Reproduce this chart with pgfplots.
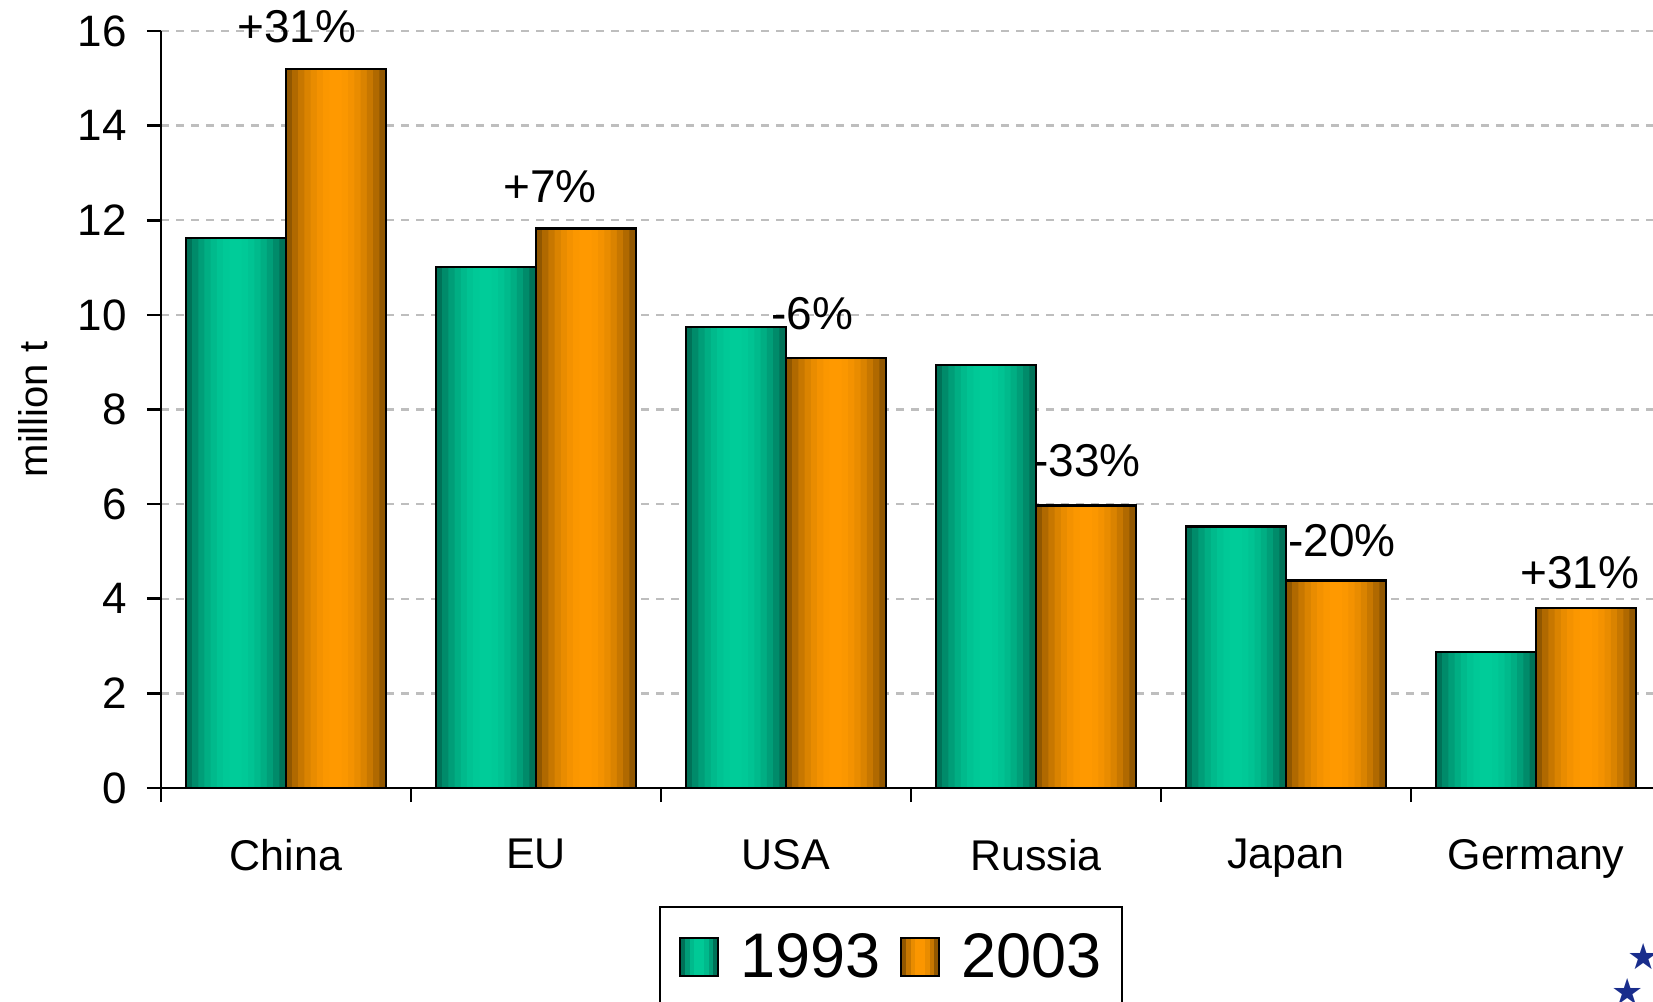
\documentclass[border=0pt]{standalone}
\usepackage{pgfplots}
\usepackage{pgfplotstable}
\pgfplotsset{compat=1.18}
\usepackage{fontspec}
\setmainfont{Liberation Sans}
\newfontfamily\dejavu{DejaVu Sans}

\definecolor{gdark}{RGB}{0,92,72}
\definecolor{glight}{RGB}{0,204,153}
\definecolor{odark}{RGB}{118,70,0}
\definecolor{olight}{RGB}{255,153,0}
\definecolor{gridgray}{RGB}{190,190,190}
\definecolor{starblue}{RGB}{25,45,140}

% million t
\pgfplotstableread{
x y
0 11.63
1 11.01
2 9.74
3 8.94
4 5.53
5 2.87
}\dataA
\pgfplotstableread{
x y
0 15.20
1 11.83
2 9.09
3 5.97
4 4.39
5 3.80
}\dataB

% legend square made of strips, #1 = light colour, #2 = dark colour
\newcommand\legsquare[2]{%
    \path[draw=none] (0pt,0pt) -- (29pt,0pt);
    \foreach \p [count=\i from 0] in {20,59,84,97,97,84,59,20} {
        \fill[draw=none, #1!\p!#2] (\i*2.375pt,-9.5pt) rectangle ({(\i+1)*2.375pt+0.2pt},9.5pt);
    }
    \draw[black, line width=1pt, fill=none] (0pt,-9.5pt) rectangle (19pt,9.5pt);
}

\begin{document}
\begin{tikzpicture}
% 1 px of the reference = 0.5pt
\begin{axis}[
    at={(80.5pt,-394pt)}, anchor=south west,
    scale only axis,
    width=746pt, height=378.5pt,
    xmin=-0.5, xmax=5.468,
    ymin=0, ymax=16,
    clip=false,
    ybar,
    axis x line*=bottom, axis y line*=left,
    axis line style={line width=1.3pt},
    tick align=outside,
    major tick length=7pt,
    tick style={line width=1.3pt, black},
    xtick={-0.5,0.5,1.5,2.5,3.5,4.5},
    xticklabels={},
    extra x ticks={0,1,2,3,4,5},
    extra x tick labels={China,EU,USA,Russia,Japan,Germany},
    extra x tick style={major tick length=0pt,
        xticklabel style={yshift=-22pt}},
    xticklabel style={font=\fontsize{21.5}{25}\selectfont},
    ytick={0,2,...,16},
    yticklabel style={font=\fontsize{22}{26}\selectfont, xshift=-6.5pt},
    /pgf/number format/assume math mode=true,
    ymajorgrids,
    grid style={gridgray, line width=1.2pt, dash pattern=on 4pt off 3.5pt},
    ylabel={million t},
    every axis y label/.style={at={(rel axis cs:0,0.5)}, xshift=-63.75pt,
        rotate=90, anchor=center, font=\fontsize{20}{24}\selectfont},
    legend columns=2,
    legend style={
        at={(0.3338,-0.1559)}, anchor=north west,
        draw=black, line width=1pt,
        inner xsep=9.5pt, inner ysep=12pt,
        font=\fontsize{31.5}{36}\selectfont,
        cells={anchor=west},
        nodes={inner sep=1pt},
        /tikz/every even column/.append style={column sep=9pt},
    },
]
% shaded bars, built from narrow strips
\foreach \p [count=\i from 0] in {20,42,59,73,84,92,97,100,100,97,92,84,73,59,42,20} {
    \pgfmathsetmacro\shA{-0.4+(\i+0.5)*0.025}
    \pgfmathsetmacro\shB{(\i+0.5)*0.025}
    \edef\tmp{
        \noexpand\addplot[forget plot, draw=none, bar width=0.027,
            bar shift=\shA, fill=glight!\p!gdark] table[x=x,y=y] {\noexpand\dataA};
        \noexpand\addplot[forget plot, draw=none, bar width=0.027,
            bar shift=\shB, fill=olight!\p!odark] table[x=x,y=y] {\noexpand\dataB};
    }
    \tmp
}
\addplot[bar width=0.4, bar shift=-0.2, draw=black, fill=none, line width=1.2pt,
    legend image code/.code={\legsquare{glight}{gdark}}] table[x=x,y=y] {\dataA};
\addlegendentry{1993}
\addplot[bar width=0.4, bar shift=0.2, draw=black, fill=none, line width=1.2pt,
    legend image code/.code={\legsquare{olight}{odark}}] table[x=x,y=y] {\dataB};
\addlegendentry{2003}

\begin{scope}[every node/.style={font=\fontsize{23}{27}\selectfont, inner sep=0pt}]
\node at (axis cs:0.044,16.09) {+31\%};
\node at (axis cs:1.056,12.71) {+7\%};
\node at (axis cs:2.104,10.02) {-6\%};
\node at (axis cs:3.204,6.91) {-33\%};
\node at (axis cs:4.224,5.22) {-20\%};
\node at (axis cs:5.176,4.55) {+31\%};
\end{scope}
\end{axis}
\node[text=starblue, font=\dejavu\fontsize{18}{18}\selectfont] at (822pt,-478.5pt) {★};
\node[text=starblue, font=\dejavu\fontsize{18}{18}\selectfont] at (814pt,-496pt) {★};
\pgfresetboundingbox
\path[use as bounding box] (0pt,0pt) rectangle (826.5pt,-500.5pt);
\end{tikzpicture}
\end{document}
